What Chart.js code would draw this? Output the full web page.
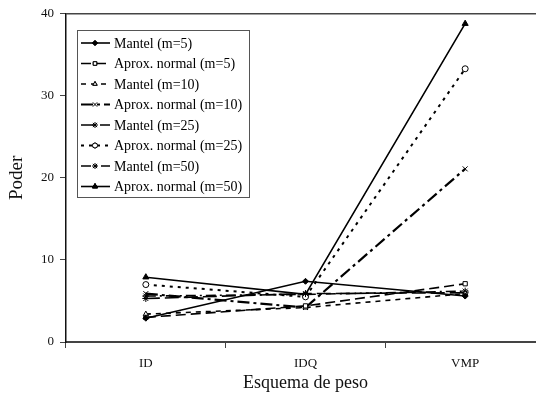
<!DOCTYPE html>
<html>
<head>
<meta charset="utf-8">
<script src="https://cdn.jsdelivr.net/npm/chart.js@4.4.0/dist/chart.umd.min.js"></script>
<style>
  html, body { margin: 0; padding: 0; background: #fff; overflow: hidden; }
  #wrap { width: 536px; height: 398px; overflow: hidden; }
  #wrap div { width: 550px; height: 398px; }
</style>
</head>
<body>
<div id="wrap"><div><canvas id="chart" width="550" height="398"></canvas></div></div>
<script>
// Datos
const categories = ['ID', 'IDQ', 'VMP'];
const yTicks = [0, 10, 20, 30, 40];

const mantelM5 = [2.9, 7.4, 5.6];
const normalM5 = [3.0, 4.4, 7.1];
const mantelM10 = [3.4, 4.2, 5.9];
const normalM10 = [5.9, 4.2, 21.1];
const mantelM25 = [5.3, 5.9, 6.0];
const normalM25 = [7.0, 5.5, 33.3];
const mantelM50 = [5.6, 5.8, 6.2];
const normalM50 = [7.9, 5.8, 38.8];

const seriesNames = [
  'Mantel (m=5)', 'Aprox. normal (m=5)', 'Mantel (m=10)', 'Aprox. normal (m=10)',
  'Mantel (m=25)', 'Aprox. normal (m=25)', 'Mantel (m=50)', 'Aprox. normal (m=50)'
];
const seriesData = [mantelM5, normalM5, mantelM10, normalM10, mantelM25, normalM25, mantelM50, normalM50];

const styles = [
  { dash: [], width: 1.6, point: 'rectRot', radius: 3, fill: '#000' },
  { dash: [10, 5], width: 1.6, point: 'rect', radius: 3, fill: '#fff' },
  { dash: [5, 5], width: 1.6, point: 'triangle', radius: 3, fill: '#fff' },
  { dash: [12, 4, 3, 4], width: 2.2, point: 'crossRot', radius: 3.5, fill: '#000' },
  { dash: [14, 5], width: 1.6, point: 'star', radius: 3.5, fill: '#000' },
  { dash: [3, 5], width: 2, point: 'circle', radius: 3, fill: '#fff' },
  { dash: [10, 4, 2, 4], width: 1.6, point: 'star', radius: 3.5, fill: '#000' },
  { dash: [], width: 1.6, point: 'triangle', radius: 3.5, fill: '#000' }
];

const datasets = seriesNames.map((name, i) => ({
  label: name,
  data: seriesData[i],
  borderColor: '#000',
  backgroundColor: styles[i].fill,
  borderWidth: styles[i].width,
  borderDash: styles[i].dash,
  pointStyle: styles[i].point,
  pointRadius: styles[i].radius,
  pointBorderColor: '#000',
  pointBackgroundColor: styles[i].fill,
  pointBorderWidth: 1,
  tension: 0
}));

const serif = "'Liberation Serif', 'Times New Roman', serif";
const strokeOnly = ['star', 'crossRot', 'cross'];

// Leyenda dentro del área y línea superior del marco
const boxLegend = {
  id: 'boxLegend',
  afterDraw(chart) {
    const ctx = chart.ctx;
    const area = chart.chartArea;
    ctx.save();
    ctx.strokeStyle = '#444';
    ctx.lineWidth = 1.5;
    ctx.beginPath();
    ctx.moveTo(area.left, area.top);
    ctx.lineTo(area.right, area.top);
    ctx.stroke();

    const x0 = 77.5, y0 = 30.5, w = 172, h = 167;
    ctx.fillStyle = '#fff';
    ctx.fillRect(x0, y0, w, h);
    ctx.strokeStyle = '#555';
    ctx.lineWidth = 1;
    ctx.strokeRect(x0, y0, w, h);

    ctx.font = '14px ' + serif;
    ctx.textBaseline = 'middle';
    seriesNames.forEach((name, i) => {
      const y = 43 + i * 20.5;
      const s = styles[i];
      ctx.strokeStyle = '#000';
      ctx.lineWidth = s.width;
      ctx.setLineDash(s.dash);
      ctx.beginPath();
      ctx.moveTo(81, y);
      ctx.lineTo(110, y);
      ctx.stroke();
      ctx.setLineDash([]);
      ctx.fillStyle = s.fill;
      ctx.strokeStyle = '#000';
      ctx.lineWidth = 1;
      Chart.helpers.drawPoint(ctx, {
        pointStyle: s.point, radius: s.radius - 0.5, borderWidth: 1, rotation: 0
      }, 95, y);
      if (!strokeOnly.includes(s.point)) {
        ctx.fill();
        ctx.stroke();
      }
      ctx.fillStyle = '#000';
      ctx.fillText(name, 114, y + 1);
    });
    ctx.restore();
  }
};

new Chart(document.getElementById('chart'), {
  type: 'line',
  data: { labels: categories, datasets: datasets },
  options: {
    responsive: false,
    animation: false,
    layout: { padding: { top: 13, right: 4, left: 0, bottom: 0 } },
    plugins: { legend: { display: false }, tooltip: { enabled: false } },
    scales: {
      x: {
        offset: true,
        grid: { offset: true, drawOnChartArea: false, color: '#444', tickLength: 6, tickWidth: 1 },
        border: { color: '#444', width: 2 },
        ticks: { color: '#111', font: { family: serif, size: 13 }, padding: 8 },
        title: { display: true, text: 'Esquema de peso', color: '#111', font: { family: serif, size: 18 }, padding: { top: 2 } },
        afterFit(scale) { scale.height = 56; }
      },
      y: {
        min: 0,
        max: 40,
        afterBuildTicks(scale) { scale.ticks = yTicks.map(v => ({ value: v })); },
        grid: { drawOnChartArea: false, color: '#444', tickLength: 6, tickWidth: 1 },
        border: { color: '#111', width: 1.5 },
        ticks: { color: '#111', font: { family: serif, size: 13 }, padding: 6 },
        title: { display: true, text: 'Poder', color: '#111', font: { family: serif, size: 19 }, padding: { top: 6, bottom: 4 } },
        afterFit(scale) { scale.width = 66; }
      }
    }
  },
  plugins: [boxLegend]
});
</script>
</body>
</html>
